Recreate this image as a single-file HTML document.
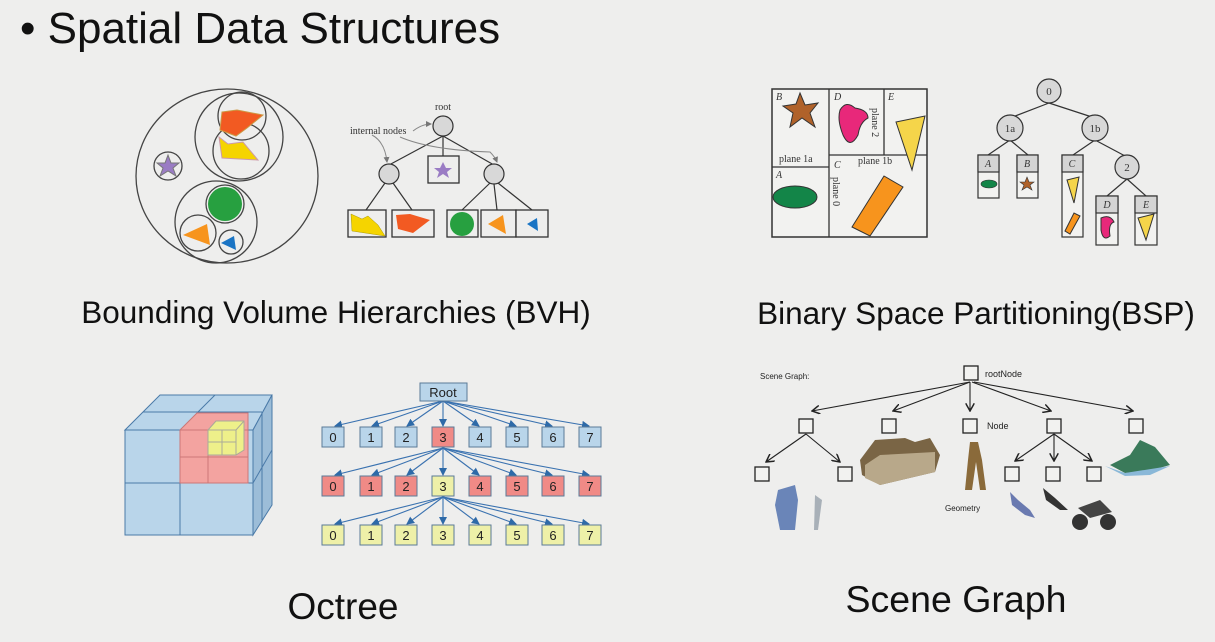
<!DOCTYPE html>
<html><head><meta charset="utf-8"><style>
html,body{margin:0;padding:0;background:#eeeeed;}
svg{display:block;}
</style></head><body>
<svg width="1215" height="642" viewBox="0 0 1215 642" xmlns="http://www.w3.org/2000/svg">
<defs>
<marker id="ab" markerWidth="8" markerHeight="8" refX="7" refY="4" orient="auto" markerUnits="userSpaceOnUse"><path d="M0,0 L8,4 L0,8 z" fill="#2e6aa8"/></marker>
<marker id="ak" markerWidth="9" markerHeight="9" refX="8" refY="4.5" orient="auto" markerUnits="userSpaceOnUse"><path d="M0,0 L8,4.5 L0,9" fill="none" stroke="#222" stroke-width="1.5"/></marker>
<marker id="ag" markerWidth="6" markerHeight="6" refX="5" refY="3" orient="auto" markerUnits="userSpaceOnUse"><path d="M0,0 L6,3 L0,6 z" fill="#777"/></marker>
</defs>
<rect width="1215" height="642" fill="#eeeeed"/>
<text x="20" y="43" font-family="Liberation Sans, sans-serif" font-size="44" fill="#111">• Spatial Data Structures</text>

<!-- BVH -->
<g fill="none" stroke="#444" stroke-width="1.3">
<ellipse cx="227" cy="176" rx="91" ry="87"/>
<circle cx="239" cy="137" r="44"/>
<circle cx="242" cy="116" r="24"/>
<circle cx="241" cy="151" r="28"/>
<circle cx="168" cy="166" r="14"/>
<circle cx="216" cy="222" r="41"/>
<circle cx="225" cy="204" r="19"/>
<circle cx="198" cy="233" r="18"/>
<circle cx="231" cy="242" r="12"/>
</g>
<polygon points="222,112 237,110 263,115 247,128 236,136 220,130" fill="#f25a22" stroke="#c94"/>
<polygon points="219,137 228,144 243,142 258,160 222,158" fill="#f5d400" stroke="#c9a"/>
<polygon points="168,155 171,163 179,163 173,168 176,176 168,171 160,176 163,168 157,163 165,163" fill="#9a7cc4" stroke="#777"/>
<circle cx="225" cy="204" r="17" fill="#27a040"/>
<polygon points="183,235 207,224 210,245" fill="#f7941d"/>
<polygon points="221,243 234,236 236,250" fill="#1a74c4"/>

<g stroke="#333" stroke-width="1.2">
<line x1="443" y1="136" x2="389" y2="165"/><line x1="443" y1="136" x2="443" y2="156"/><line x1="443" y1="136" x2="494" y2="165"/>
<line x1="385" y1="183" x2="366" y2="210"/><line x1="393" y1="183" x2="412" y2="210"/>
<line x1="490" y1="183" x2="462" y2="210"/><line x1="494" y1="184" x2="497" y2="210"/><line x1="498" y1="183" x2="532" y2="210"/>
</g>
<g fill="#d8d8d8" stroke="#333" stroke-width="1.2">
<ellipse cx="443" cy="126" rx="10" ry="10"/><ellipse cx="389" cy="174" rx="10" ry="10"/><ellipse cx="494" cy="174" rx="10" ry="10"/>
</g>
<g fill="#eeeeed" stroke="#333" stroke-width="1.3">
<rect x="428" y="156" width="31" height="27"/>
<rect x="348" y="210" width="38" height="27"/><rect x="392" y="210" width="42" height="27"/>
<rect x="447" y="210" width="31" height="27"/><rect x="481" y="210" width="35" height="27"/><rect x="516" y="210" width="32" height="27"/>
</g>
<polygon points="443,162 446,168 452,168 447,172 449,178 443,174 437,178 439,172 434,168 440,168" fill="#9a7cc4"/>
<polygon points="351,214 362,219 368,216 378,225 385,236 352,231" fill="#f5d400" stroke="#a90" stroke-width=".5"/>
<polygon points="396,215 410,214 430,220 413,233 398,229" fill="#f25a22"/>
<circle cx="462" cy="224" r="12" fill="#27a040"/>
<polygon points="488,224 503,215 506,234" fill="#f7941d"/>
<polygon points="527,224 537,218 538,231" fill="#1a74c4"/>
<text x="443" y="110" font-family="Liberation Serif, serif" font-size="10" text-anchor="middle" fill="#333">root</text>
<text x="350" y="134" font-family="Liberation Serif, serif" font-size="10" fill="#333">internal nodes</text>
<path d="M413,131 Q422,124 431,124" fill="none" stroke="#888" marker-end="url(#ag)"/>
<path d="M372,135 Q385,142 387,162" fill="none" stroke="#888" marker-end="url(#ag)"/>
<path d="M400,137 Q430,150 490,152 Q495,157 497,162" fill="none" stroke="#888" marker-end="url(#ag)"/>
<text x="336" y="323" font-family="Liberation Sans, sans-serif" font-size="31.5" text-anchor="middle" fill="#111">Bounding Volume Hierarchies (BVH)</text>

<!-- BSP -->
<rect x="772" y="89" width="155" height="148" fill="#f2f2f0" stroke="#333" stroke-width="1.5"/>
<g stroke="#333" stroke-width="1.3">
<line x1="829" y1="89" x2="829" y2="237"/><line x1="772" y1="167" x2="829" y2="167"/>
<line x1="829" y1="155" x2="927" y2="155"/><line x1="884" y1="89" x2="884" y2="155"/>
</g>
<polygon points="800,93 805,105 818,103 810,113 815,127 802,118 790,127 793,113 783,106 796,104" fill="#b0622a" stroke="#333"/>
<path d="M840,110 Q846,100 855,108 Q868,110 868,118 Q860,122 858,135 Q850,150 843,135 Q837,120 840,110z" fill="#e8287a" stroke="#333"/>
<polygon points="896,122 925,116 912,170" fill="#f5d54a" stroke="#333"/>
<ellipse cx="795" cy="197" rx="22" ry="11" fill="#138548" stroke="#333"/>
<polygon points="852,227 884,176 903,187 870,236" fill="#f7941d" stroke="#333"/>
<g font-family="Liberation Serif, serif" font-size="10" fill="#333" font-style="italic">
<text x="776" y="100">B</text><text x="834" y="100">D</text><text x="888" y="100">E</text><text x="776" y="178">A</text><text x="834" y="168">C</text>
</g>
<g font-family="Liberation Serif, serif" font-size="10" fill="#333">
<text x="779" y="162">plane 1a</text><text x="858" y="164">plane 1b</text>
<text transform="translate(872,108) rotate(90)">plane 2</text>
<text transform="translate(833,177) rotate(90)">plane 0</text>
</g>
<g stroke="#333" stroke-width="1.2">
<line x1="1049" y1="103" x2="1010" y2="118"/><line x1="1049" y1="103" x2="1095" y2="118"/>
<line x1="1010" y1="140" x2="988" y2="155"/><line x1="1010" y1="140" x2="1028" y2="155"/>
<line x1="1095" y1="140" x2="1073" y2="155"/><line x1="1095" y1="140" x2="1127" y2="157"/>
<line x1="1127" y1="179" x2="1107" y2="196"/><line x1="1127" y1="179" x2="1146" y2="196"/>
</g>
<g fill="#d8d8d8" stroke="#333" stroke-width="1.2">
<circle cx="1049" cy="91" r="12"/><circle cx="1010" cy="128" r="13"/><circle cx="1095" cy="128" r="13"/><circle cx="1127" cy="167" r="12"/>
</g>
<g font-family="Liberation Serif, serif" font-size="11" fill="#333" text-anchor="middle">
<text x="1049" y="95">0</text><text x="1010" y="132">1a</text><text x="1095" y="132">1b</text><text x="1127" y="171">2</text>
</g>
<g stroke="#333" stroke-width="1.2" fill="#f2f2f0">
<rect x="978" y="155" width="21" height="43"/><rect x="1017" y="155" width="21" height="43"/>
<rect x="1062" y="155" width="21" height="82"/><rect x="1096" y="196" width="22" height="49"/><rect x="1135" y="196" width="22" height="49"/>
</g>
<g fill="#d4d4d4" stroke="#333" stroke-width="1.2">
<rect x="978" y="155" width="21" height="17"/><rect x="1017" y="155" width="21" height="17"/>
<rect x="1062" y="155" width="21" height="17"/><rect x="1096" y="196" width="22" height="17"/><rect x="1135" y="196" width="22" height="17"/>
</g>
<g font-family="Liberation Serif, serif" font-size="10" fill="#333" text-anchor="middle" font-style="italic">
<text x="988" y="167">A</text><text x="1027" y="167">B</text><text x="1072" y="167">C</text><text x="1107" y="208">D</text><text x="1146" y="208">E</text>
</g>
<ellipse cx="989" cy="184" rx="8" ry="4" fill="#138548" stroke="#333" stroke-width=".6"/>
<polygon points="1027,177 1029,182 1034,182 1030,185 1032,190 1027,187 1022,190 1024,185 1020,182 1025,182" fill="#b0622a" stroke="#333" stroke-width=".6"/>
<polygon points="1067,180 1079,177 1074,203" fill="#f5d54a" stroke="#333"/>
<polygon points="1065,231 1074,213 1080,216 1070,234" fill="#f7941d" stroke="#333"/>
<path d="M1101,218 Q1110,214 1114,222 Q1108,224 1110,236 Q1103,242 1101,230z" fill="#e8287a" stroke="#333"/>
<polygon points="1138,218 1154,214 1146,240" fill="#f5d54a" stroke="#333"/>
<text x="976" y="324" font-family="Liberation Sans, sans-serif" font-size="31.5" text-anchor="middle" fill="#111">Binary Space Partitioning(BSP)</text>

<!-- Octree cube -->
<polygon points="125,430 160,395 272,395 253,430" fill="#b9d5ea" stroke="#4a7aa8"/>
<polygon points="253,430 272,395 272,505 253,535" fill="#9cbdd8" stroke="#4a7aa8"/>
<rect x="125" y="430" width="128" height="105" fill="#b9d5ea" stroke="#4a7aa8"/>
<line x1="180" y1="430" x2="180" y2="535" stroke="#4a7aa8"/>
<line x1="125" y1="483" x2="253" y2="483" stroke="#4a7aa8"/>
<line x1="143" y1="412" x2="262" y2="412" stroke="#4a7aa8"/>
<line x1="215" y1="395" x2="198" y2="412" stroke="#4a7aa8"/>
<line x1="253" y1="483" x2="272" y2="450" stroke="#4a7aa8"/>
<line x1="262" y1="412" x2="262" y2="520" stroke="#4a7aa8"/>
<polygon points="180,430 197,413 248,413 248,483 180,483" fill="#f3a3a0" stroke="#c77"/>
<line x1="180" y1="457" x2="248" y2="457" stroke="#c77"/><line x1="208" y1="430" x2="208" y2="483" stroke="#c77"/>
<line x1="180" y1="430" x2="248" y2="430" stroke="#c77"/>
<polygon points="208,430 216,421 244,421 244,450 236,455 208,455" fill="#eef08a" stroke="#aa9"/>
<line x1="208" y1="442" x2="236" y2="442" stroke="#aa9"/><line x1="222" y1="430" x2="222" y2="455" stroke="#aa9"/><line x1="236" y1="430" x2="236" y2="455" stroke="#aa9"/><line x1="208" y1="430" x2="236" y2="430" stroke="#aa9"/><line x1="236" y1="430" x2="244" y2="421" stroke="#aa9"/>

<!-- Octree tree -->
<g stroke="#3a72b0" stroke-width="1.1">
<line x1="443" y1="401" x2="335" y2="426" marker-end="url(#ab)"/><line x1="443" y1="401" x2="372" y2="426" marker-end="url(#ab)"/><line x1="443" y1="401" x2="407" y2="426" marker-end="url(#ab)"/><line x1="443" y1="401" x2="443" y2="426" marker-end="url(#ab)"/><line x1="443" y1="401" x2="479" y2="426" marker-end="url(#ab)"/><line x1="443" y1="401" x2="516" y2="426" marker-end="url(#ab)"/><line x1="443" y1="401" x2="552" y2="426" marker-end="url(#ab)"/><line x1="443" y1="401" x2="589" y2="426" marker-end="url(#ab)"/>
<line x1="443" y1="448" x2="335" y2="475" marker-end="url(#ab)"/><line x1="443" y1="448" x2="372" y2="475" marker-end="url(#ab)"/><line x1="443" y1="448" x2="407" y2="475" marker-end="url(#ab)"/><line x1="443" y1="448" x2="443" y2="475" marker-end="url(#ab)"/><line x1="443" y1="448" x2="479" y2="475" marker-end="url(#ab)"/><line x1="443" y1="448" x2="516" y2="475" marker-end="url(#ab)"/><line x1="443" y1="448" x2="552" y2="475" marker-end="url(#ab)"/><line x1="443" y1="448" x2="589" y2="475" marker-end="url(#ab)"/>
<line x1="443" y1="497" x2="335" y2="524" marker-end="url(#ab)"/><line x1="443" y1="497" x2="372" y2="524" marker-end="url(#ab)"/><line x1="443" y1="497" x2="407" y2="524" marker-end="url(#ab)"/><line x1="443" y1="497" x2="443" y2="524" marker-end="url(#ab)"/><line x1="443" y1="497" x2="479" y2="524" marker-end="url(#ab)"/><line x1="443" y1="497" x2="516" y2="524" marker-end="url(#ab)"/><line x1="443" y1="497" x2="552" y2="524" marker-end="url(#ab)"/><line x1="443" y1="497" x2="589" y2="524" marker-end="url(#ab)"/>
</g>
<rect x="420" y="383" width="47" height="18" fill="#b9d5ea" stroke="#5a7a98"/>
<text x="443" y="397" font-family="Liberation Sans, sans-serif" font-size="13" text-anchor="middle" fill="#222">Root</text>
<g stroke="#5a7a98" stroke-width="1">
<g fill="#b9d5ea"><rect x="322" y="427" width="22" height="20"/><rect x="360" y="427" width="22" height="20"/><rect x="395" y="427" width="22" height="20"/><rect x="469" y="427" width="22" height="20"/><rect x="506" y="427" width="22" height="20"/><rect x="542" y="427" width="22" height="20"/><rect x="579" y="427" width="22" height="20"/></g>
<rect x="432" y="427" width="22" height="20" fill="#f08a86"/>
<g fill="#f08a86"><rect x="322" y="476" width="22" height="20"/><rect x="360" y="476" width="22" height="20"/><rect x="395" y="476" width="22" height="20"/><rect x="469" y="476" width="22" height="20"/><rect x="506" y="476" width="22" height="20"/><rect x="542" y="476" width="22" height="20"/><rect x="579" y="476" width="22" height="20"/></g>
<rect x="432" y="476" width="22" height="20" fill="#eef0a8"/>
<g fill="#eef0a8"><rect x="322" y="525" width="22" height="20"/><rect x="360" y="525" width="22" height="20"/><rect x="395" y="525" width="22" height="20"/><rect x="432" y="525" width="22" height="20"/><rect x="469" y="525" width="22" height="20"/><rect x="506" y="525" width="22" height="20"/><rect x="542" y="525" width="22" height="20"/><rect x="579" y="525" width="22" height="20"/></g>
</g>
<g font-family="Liberation Sans, sans-serif" font-size="13" text-anchor="middle" fill="#222">
<text x="333" y="442">0</text><text x="371" y="442">1</text><text x="406" y="442">2</text><text x="443" y="442">3</text><text x="480" y="442">4</text><text x="517" y="442">5</text><text x="553" y="442">6</text><text x="590" y="442">7</text>
<text x="333" y="491">0</text><text x="371" y="491">1</text><text x="406" y="491">2</text><text x="443" y="491">3</text><text x="480" y="491">4</text><text x="517" y="491">5</text><text x="553" y="491">6</text><text x="590" y="491">7</text>
<text x="333" y="540">0</text><text x="371" y="540">1</text><text x="406" y="540">2</text><text x="443" y="540">3</text><text x="480" y="540">4</text><text x="517" y="540">5</text><text x="553" y="540">6</text><text x="590" y="540">7</text>
</g>
<text x="343" y="619" font-family="Liberation Sans, sans-serif" font-size="37" text-anchor="middle" fill="#111">Octree</text>

<!-- Scene graph -->
<text x="760" y="379" font-family="Liberation Sans, sans-serif" font-size="8" fill="#222">Scene Graph:</text>
<text x="985" y="377" font-family="Liberation Sans, sans-serif" font-size="9" fill="#222">rootNode</text>
<text x="987" y="429" font-family="Liberation Sans, sans-serif" font-size="9" fill="#222">Node</text>
<text x="945" y="511" font-family="Liberation Sans, sans-serif" font-size="8" fill="#222">Geometry</text>
<g stroke="#222" stroke-width="1.1">
<line x1="970" y1="382" x2="812" y2="411" marker-end="url(#ak)"/><line x1="970" y1="382" x2="893" y2="411" marker-end="url(#ak)"/><line x1="970" y1="382" x2="970" y2="411" marker-end="url(#ak)"/><line x1="972" y1="382" x2="1051" y2="411" marker-end="url(#ak)"/><line x1="974" y1="382" x2="1133" y2="411" marker-end="url(#ak)"/>
<line x1="806" y1="434" x2="766" y2="462" marker-end="url(#ak)"/><line x1="806" y1="434" x2="840" y2="462" marker-end="url(#ak)"/>
<line x1="1054" y1="434" x2="1015" y2="461" marker-end="url(#ak)"/><line x1="1054" y1="434" x2="1054" y2="461" marker-end="url(#ak)"/><line x1="1054" y1="434" x2="1092" y2="461" marker-end="url(#ak)"/>
</g>
<g fill="#f2f2f0" stroke="#222" stroke-width="1.3">
<rect x="964" y="366" width="14" height="14"/>
<rect x="799" y="419" width="14" height="14"/><rect x="882" y="419" width="14" height="14"/><rect x="963" y="419" width="14" height="14"/><rect x="1047" y="419" width="14" height="14"/><rect x="1129" y="419" width="14" height="14"/>
<rect x="755" y="467" width="14" height="14"/><rect x="838" y="467" width="14" height="14"/><rect x="1005" y="467" width="14" height="14"/><rect x="1046" y="467" width="14" height="14"/><rect x="1087" y="467" width="14" height="14"/>
</g>
<polygon points="860,460 875,440 905,438 915,442 930,438 940,455 935,472 880,485 862,475" fill="#7a6545"/>
<polygon points="865,465 880,455 935,452 935,472 880,485 865,478" fill="#b8a88a"/>
<polygon points="1110,465 1130,455 1140,440 1155,447 1170,465 1145,472 1125,473" fill="#3a7a5a"/>
<polygon points="1105,466 1125,473 1170,466 1150,475 1125,476" fill="#8ab8d8"/>
<path d="M970,442 L968,460 L965,490 L972,490 L976,462 L980,490 L986,490 L982,460 L978,442z" fill="#8a6a3a"/>
<path d="M778,490 L795,485 L798,500 L795,530 L780,530 L775,505z" fill="#6a85b8"/>
<path d="M815,495 L822,500 L818,530 L814,530z" fill="#a8b0b8"/>
<path d="M1010,492 L1012,505 L1025,515 L1035,518 L1030,510 L1018,500z" fill="#6a7ab0"/>
<path d="M1043,488 L1046,500 L1060,510 L1068,510 L1055,498z" fill="#333"/>
<ellipse cx="1080" cy="522" rx="8" ry="8" fill="#333"/><ellipse cx="1108" cy="522" rx="8" ry="8" fill="#333"/>
<path d="M1078,508 L1100,500 L1112,512 L1090,518z" fill="#444"/>
<text x="956" y="612" font-family="Liberation Sans, sans-serif" font-size="37.5" text-anchor="middle" fill="#111">Scene Graph</text>
</svg>
</body></html>
